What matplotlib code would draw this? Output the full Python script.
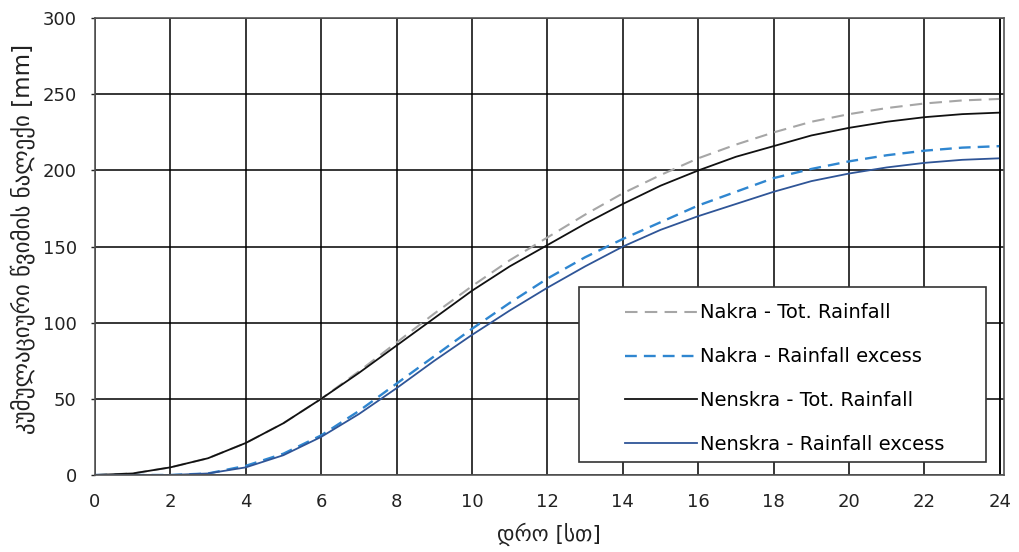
import matplotlib
matplotlib.use("Agg")
import matplotlib.pyplot as plt
from matplotlib.patches import Rectangle

plt.rcParams['font.family'] = ['DejaVu Sans']

hours = list(range(0, 25))
nakra_tot = [0, 1, 5, 11, 21, 34, 50, 68, 87, 106, 124, 141, 156, 171, 185, 197, 208, 217, 225, 232, 237, 241, 244, 246, 247]
nakra_exc = [0, 0, 0, 1, 6, 14, 26, 42, 60, 78, 96, 113, 129, 143, 155, 166, 177, 186, 195, 201, 206, 210, 213, 215, 216]
nenskra_tot = [0, 1, 5, 11, 21, 34, 50, 67, 85, 103, 121, 137, 151, 165, 178, 190, 200, 209, 216, 223, 228, 232, 235, 237, 238]
nenskra_exc = [0, 0, 0, 1, 5, 13, 25, 40, 57, 75, 92, 108, 123, 137, 150, 161, 170, 178, 186, 193, 198, 202, 205, 207, 208]

labels = ["Nakra - Tot. Rainfall", "Nakra - Rainfall excess",
          "Nenskra - Tot. Rainfall", "Nenskra - Rainfall excess"]
xticks = list(range(0, 25, 2))
yticks = list(range(0, 301, 50))

fig = plt.figure(figsize=(10.2, 5.52), dpi=100)
ax = fig.add_axes([0.093, 0.1395, 0.891, 0.8275])

ax.plot(hours, nakra_tot, color='#a6a6a6', lw=1.5, ls=(0, (6, 3.5)), label=labels[0])
ax.plot(hours, nakra_exc, color='#2f86d0', lw=1.7, ls=(0, (5, 3)), label=labels[1])
ax.plot(hours, nenskra_tot, color='#111111', lw=1.3, label=labels[2])
ax.plot(hours, nenskra_exc, color='#2f5597', lw=1.3, label=labels[3])

ax.set_xlim(0, 24.1)
ax.set_ylim(0, 300)
ax.set_xticks(xticks)
ax.set_yticks(yticks)
ax.grid(True, color='black', lw=1.1)
ax.axvline(24, color='black', lw=1.1)
ax.set_axisbelow(True)
for s in ax.spines.values():
    s.set_color('#555555')
    s.set_linewidth(1.2)

ax.tick_params(axis='x', labelsize=13, colors='#222222', length=0, pad=13)
ax.tick_params(axis='y', labelsize=13, colors='#222222', length=3, width=1, pad=10)
ax.set_xlabel("დრო [სთ]", fontsize=15.5, color='#222222', labelpad=8)
ax.set_ylabel("კუმულაციური წვიმის ნალექი [mm]", fontsize=16.5, color='#222222')
ax.yaxis.set_label_coords(-0.066, 0.517)

# legend frame drawn separately to get the reference's asymmetric padding
frame = Rectangle((0.5326, 0.0285), 0.4478, 0.3831, transform=ax.transAxes,
                  facecolor='white', edgecolor='#333333', lw=1.2, zorder=5)
ax.add_patch(frame)
leg = ax.legend(loc='upper left', bbox_to_anchor=(0.5832, 0.3755), fontsize=14,
                frameon=False, handlelength=3.7, handletextpad=0.15,
                labelspacing=1.28, borderpad=0, borderaxespad=0)
leg.set_zorder(6)

fig.savefig("out.png", dpi=100)
